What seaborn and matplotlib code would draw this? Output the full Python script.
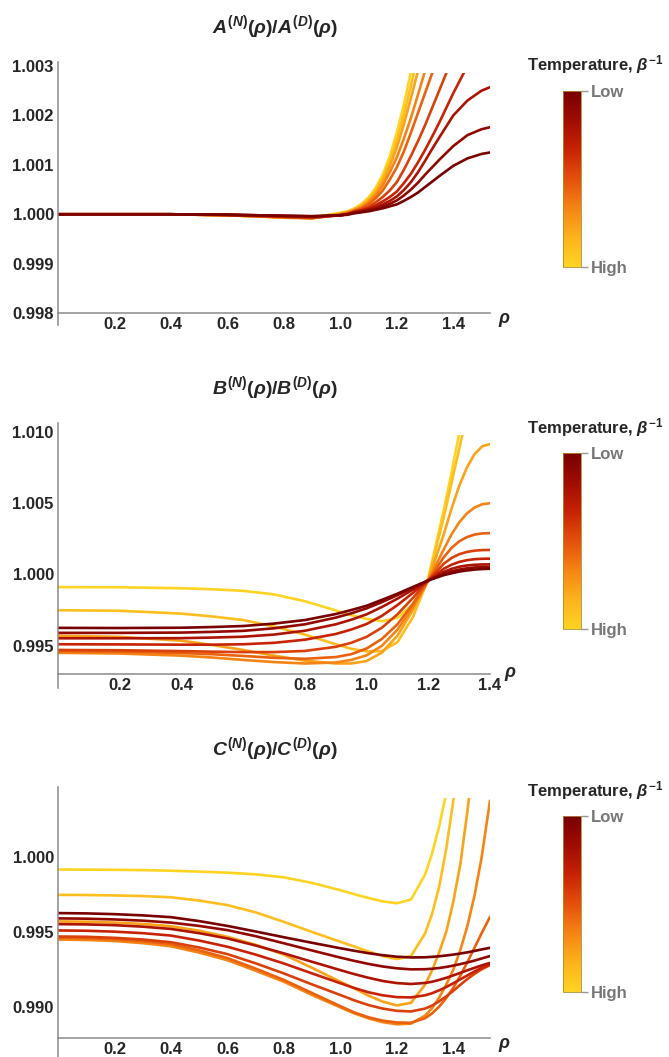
import numpy as np
import pandas as pd
import matplotlib
matplotlib.use('Agg')
import matplotlib.pyplot as plt
import seaborn as sns
from matplotlib.colors import LinearSegmentedColormap, Normalize
from matplotlib.cm import ScalarMappable
from matplotlib.patches import Rectangle
from matplotlib.ticker import FixedLocator, FormatStrFormatter

nan = np.nan

# curve names: T0 = lowest temperature (darkest) ... T9 = highest (yellow)
curve_names = ['T0', 'T1', 'T2', 'T3', 'T4', 'T5', 'T6', 'T7', 'T8', 'T9']

# ---- A^(N)/A^(D) ----
rho_A = [0, 0.2, 0.4, 0.6, 0.7, 0.8, 0.9,
         1.0, 1.025, 1.05, 1.075, 1.1, 1.125, 1.15, 1.175, 1.2, 1.225, 1.25, 1.275, 1.3, 1.325, 1.35,
         1.4, 1.45, 1.5, 1.53]
ratio_A = [
    [1.0, 1.0, 1.0, 0.99999, 0.99998, 0.99997, 0.99996, 0.99998, 0.99999, 1.00002, 1.00004, 1.00006, 1.00009, 1.00012, 1.00016, 1.0002, 1.00027, 1.00035, 1.00044, 1.00055, 1.00066, 1.00077, 1.00098, 1.00113, 1.00122, 1.00125],
    [1.0, 1.0, 1.0, 0.99999, 0.99998, 0.99997, 0.99996, 0.99998, 1.0, 1.00003, 1.00005, 1.00008, 1.00011, 1.00016, 1.00021, 1.00028, 1.00038, 1.0005, 1.00064, 1.0008, 1.00095, 1.0011, 1.00138, 1.0016, 1.00172, 1.00176],
    [1.0, 1.0, 1.0, 0.99999, 0.99998, 0.99996, 0.99995, 0.99998, 1.0, 1.00004, 1.00007, 1.0001, 1.00014, 1.0002, 1.00027, 1.00036, 1.00049, 1.00065, 1.00085, 1.00108, 1.00132, 1.00155, 1.002, 1.0023, 1.0025, 1.00257],
    [1.0, 1.0, 1.0, 0.99999, 0.99997, 0.99995, 0.99994, 0.99998, 1.0, 1.00005, 1.00008, 1.00012, 1.00018, 1.00026, 1.00035, 1.00046, 1.00063, 1.00082, 1.00105, 1.0013, 1.00157, 1.00185, 1.00245, 1.003, 1.00345, nan],
    [1.0, 1.0, 1.0, 0.99998, 0.99997, 0.99995, 0.99993, 0.99998, 1.00001, 1.00006, 1.0001, 1.00015, 1.00024, 1.00035, 1.00048, 1.00065, 1.0009, 1.00118, 1.00148, 1.0018, 1.00215, 1.0025, 1.0032, nan, nan, nan],
    [1.0, 1.0, 1.0, 0.99998, 0.99996, 0.99994, 0.99992, 0.99999, 1.00002, 1.00007, 1.00012, 1.0002, 1.00032, 1.00048, 1.0007, 1.00095, 1.00127, 1.00165, 1.00205, 1.00245, 1.00285, 1.0033, nan, nan, nan, nan],
    [1.0, 1.0, 1.0, 0.99998, 0.99996, 0.99994, 0.99992, 1.0, 1.00003, 1.00008, 1.00014, 1.00024, 1.00038, 1.00058, 1.00085, 1.00115, 1.00153, 1.00195, 1.00242, 1.0029, 1.0034, nan, nan, nan, nan, nan],
    [1.0, 1.0, 1.0, 0.99998, 0.99996, 0.99993, 0.99992, 1.00001, 1.00004, 1.00009, 1.00016, 1.00027, 1.00043, 1.00066, 1.00097, 1.00135, 1.00182, 1.00235, 1.0029, 1.0035, nan, nan, nan, nan, nan, nan],
    [1.0, 1.0, 1.0, 0.99998, 0.99996, 0.99993, 0.99993, 1.00002, 1.00005, 1.0001, 1.00018, 1.0003, 1.00048, 1.00072, 1.00106, 1.0015, 1.00202, 1.0026, 1.00325, nan, nan, nan, nan, nan, nan, nan],
    [1.0, 1.0, 1.0, 0.99998, 0.99996, 0.99994, 0.99993, 1.00003, 1.00006, 1.00012, 1.00021, 1.00034, 1.00053, 1.0008, 1.00117, 1.00165, 1.00222, 1.00288, 1.00365, nan, nan, nan, nan, nan, nan, nan],
]

# ---- B^(N)/B^(D) ----
rho_B = [0, 0.2, 0.4, 0.5, 0.6, 0.7, 0.8, 0.9, 0.95, 1.0, 1.05, 1.1, 1.15, 1.2,
         1.25, 1.275, 1.3, 1.325, 1.35, 1.375, 1.4]
ratio_B = [
    [0.99625, 0.99624, 0.99626, 0.99631, 0.99638, 0.99655, 0.9968, 0.99722, 0.9975, 0.9978, 0.99822, 0.99865, 0.99912, 0.99958, 0.99995, 1.00008, 1.0002, 1.00028, 1.00034, 1.00038, 1.0004],
    [0.9959, 0.9959, 0.99592, 0.99597, 0.99604, 0.99622, 0.9965, 0.99697, 0.99727, 0.99762, 0.99806, 0.99855, 0.99906, 0.99958, 1.00004, 1.00021, 1.00034, 1.00043, 1.00049, 1.00052, 1.00053],
    [0.99552, 0.99552, 0.99553, 0.99557, 0.99563, 0.99578, 0.99605, 0.9965, 0.99682, 0.9972, 0.99772, 0.9983, 0.99893, 0.99958, 1.00018, 1.00039, 1.00054, 1.00063, 1.00068, 1.0007, 1.00071],
    [0.9951, 0.99509, 0.99507, 0.99507, 0.9951, 0.9952, 0.99542, 0.99582, 0.99613, 0.99652, 0.9971, 0.99785, 0.9987, 0.99958, 1.0004, 1.00068, 1.00088, 1.001, 1.00107, 1.0011, 1.00111],
    [0.9947, 0.99468, 0.99462, 0.99458, 0.99455, 0.99455, 0.99463, 0.99492, 0.9952, 0.99562, 0.99627, 0.9972, 0.99835, 0.99958, 1.00075, 1.00115, 1.00142, 1.00158, 1.00167, 1.00171, 1.00172],
    [0.99462, 0.99458, 0.99448, 0.9944, 0.99428, 0.99415, 0.99408, 0.9942, 0.9944, 0.9948, 0.99548, 0.9965, 0.99792, 0.99958, 1.0012, 1.00185, 1.00232, 1.00262, 1.0028, 1.00288, 1.0029],
    [0.9945, 0.99445, 0.9943, 0.99417, 0.994, 0.99385, 0.99375, 0.99382, 0.994, 0.99432, 0.995, 0.99612, 0.9977, 0.99958, 1.00175, 1.0028, 1.00365, 1.00428, 1.0047, 1.00493, 1.005],
    [0.9957, 0.99562, 0.99535, 0.99505, 0.9947, 0.9943, 0.99395, 0.99375, 0.99375, 0.99392, 0.99452, 0.9957, 0.9975, 0.99962, 1.0028, 1.0046, 1.0062, 1.0075, 1.00845, 1.009, 1.00915],
    [0.99749, 0.99745, 0.99725, 0.99705, 0.9968, 0.99635, 0.99578, 0.9951, 0.99478, 0.9946, 0.99462, 0.99525, 0.997, 0.99968, 1.004, 1.0064, 1.0088, 1.0112, nan, nan, nan],
    [0.99911, 0.9991, 0.99903, 0.99896, 0.99885, 0.9986, 0.99812, 0.99748, 0.99714, 0.99688, 0.99672, 0.99695, 0.99792, 0.99975, 1.0045, 1.0071, 1.0099, 1.0127, nan, nan, nan],
]

# ---- C^(N)/C^(D) ----
rho_C = [0, 0.1, 0.2, 0.3, 0.4, 0.5, 0.6, 0.7, 0.8, 0.9, 1.0, 1.05, 1.1, 1.15, 1.2, 1.25,
         1.3, 1.325, 1.35, 1.375, 1.4, 1.425, 1.45, 1.475, 1.5, 1.53]
ratio_C = [
    [0.99625, 0.99623, 0.99618, 0.9961, 0.99598, 0.99572, 0.9954, 0.99503, 0.99465, 0.99428, 0.99392, 0.99375, 0.99359, 0.99346, 0.99336, 0.99331, 0.99332, 0.99335, 0.99339, 0.99344, 0.9935, 0.99357, 0.99365, 0.99374, 0.99384, 0.99395],
    [0.9959, 0.99588, 0.99583, 0.99575, 0.99562, 0.9954, 0.99512, 0.99472, 0.99425, 0.99377, 0.9933, 0.99308, 0.99288, 0.99271, 0.99259, 0.99252, 0.99253, 0.99256, 0.99261, 0.99268, 0.99277, 0.99287, 0.99298, 0.9931, 0.99324, 0.9934],
    [0.99552, 0.9955, 0.99545, 0.99535, 0.9952, 0.99492, 0.99457, 0.9941, 0.99358, 0.99302, 0.99247, 0.9922, 0.99196, 0.99175, 0.99161, 0.99155, 0.99162, 0.9917, 0.99182, 0.99196, 0.99212, 0.99229, 0.99246, 0.99262, 0.99278, 0.99295],
    [0.9951, 0.99508, 0.99502, 0.99492, 0.99476, 0.99443, 0.99402, 0.9935, 0.99291, 0.99225, 0.9916, 0.99128, 0.991, 0.9908, 0.99068, 0.99066, 0.9908, 0.99094, 0.99113, 0.99135, 0.9916, 0.99186, 0.99212, 0.99238, 0.99262, 0.99288],
    [0.9947, 0.99468, 0.99461, 0.9945, 0.99432, 0.99397, 0.99353, 0.99292, 0.99225, 0.99152, 0.99082, 0.99046, 0.99015, 0.98992, 0.98977, 0.98973, 0.98992, 0.99012, 0.9904, 0.99073, 0.9911, 0.9915, 0.99188, 0.99222, 0.99252, 0.9928],
    [0.99462, 0.99459, 0.99452, 0.99439, 0.99419, 0.99378, 0.99327, 0.99257, 0.99182, 0.99095, 0.99008, 0.98966, 0.98934, 0.98912, 0.989, 0.98898, 0.98928, 0.9896, 0.99005, 0.99062, 0.9913, 0.9921, 0.993, 0.99395, 0.9949, 0.996],
    [0.9945, 0.99447, 0.9944, 0.99426, 0.99405, 0.99363, 0.99313, 0.99243, 0.9917, 0.99082, 0.99, 0.9896, 0.98927, 0.98902, 0.98888, 0.98892, 0.98945, 0.98995, 0.99065, 0.9915, 0.9925, 0.9938, 0.9954, 0.9974, 0.9999, 1.0037],
    [0.9957, 0.99568, 0.99562, 0.99553, 0.99538, 0.99508, 0.99468, 0.99415, 0.9935, 0.99262, 0.9917, 0.99125, 0.99078, 0.99038, 0.99013, 0.9903, 0.9915, 0.99245, 0.99365, 0.995, 0.997, 0.9995, 1.003, 1.007, nan, nan],
    [0.99746, 0.99745, 0.99742, 0.99738, 0.9973, 0.99708, 0.99678, 0.9963, 0.99567, 0.995, 0.99435, 0.99403, 0.9937, 0.9934, 0.9932, 0.9934, 0.9949, 0.9962, 0.998, 1.0005, 1.0037, 1.0075, nan, nan, nan, nan],
    [0.99914, 0.99913, 0.99912, 0.9991, 0.99906, 0.999, 0.99893, 0.99882, 0.99862, 0.99825, 0.99777, 0.9975, 0.99725, 0.99703, 0.9969, 0.99715, 0.9988, 1.0002, 1.002, 1.0042, 1.007, nan, nan, nan, nan, nan],
]

W, H = 669, 1057

sns.set_style('white')
plt.rcParams['font.family'] = ['Liberation Sans', 'DejaVu Sans']
plt.rcParams['font.weight'] = 'bold'
plt.rcParams['mathtext.fontset'] = 'custom'
plt.rcParams['mathtext.it'] = 'Liberation Sans:italic:bold'
plt.rcParams['mathtext.rm'] = 'Liberation Sans:bold'
plt.rcParams['mathtext.bf'] = 'Liberation Sans:bold'

# yellow (high T) -> dark red (low T)
solar = LinearSegmentedColormap.from_list(
    'solar', ['#FFD423', '#FDB21B', '#F58414', '#E4500B', '#C82204', '#A00C02', '#780000'])
palette = {name: solar(1 - i / 9) for i, name in enumerate(curve_names)}


def box(l, t, r, b):
    return [l / W, 1 - b / H, (r - l) / W, (b - t) / H]


panels = [
    dict(rho=rho_A, ratio=ratio_A, title=r'$A^{(N)}(\rho)/A^{(D)}(\rho)$', xmax=1.53,
         ylim=(0.99776, 1.00308), base=0.998, clip=1.00286,
         yt=[0.998, 0.999, 1.000, 1.001, 1.002, 1.003], ystep=0.0002,
         ax_box=(58, 62, 490, 325), cb_box=(563, 91, 581, 267), temp_y=65, title_y=27,
         rho_off=(6, -5)),
    dict(rho=rho_B, ratio=ratio_B, title=r'$B^{(N)}(\rho)/B^{(D)}(\rho)$', xmax=1.4,
         ylim=(0.99203, 1.01063), base=0.99299, clip=1.0098,
         yt=[0.995, 1.000, 1.005, 1.010], ystep=0.001,
         ax_box=(58, 423, 490, 688), cb_box=(563, 453, 581, 629), temp_y=428, title_y=388,
         rho_off=(10, 0)),
    dict(rho=rho_C, ratio=ratio_C, title=r'$C^{(N)}(\rho)/C^{(D)}(\rho)$', xmax=1.53,
         ylim=(0.98671, 1.00461), base=0.98799, clip=1.00387,
         yt=[0.990, 0.995, 1.000], ystep=0.001,
         ax_box=(58, 787, 490, 1057), cb_box=(563, 816, 581, 992), temp_y=791, title_y=749,
         rho_off=(6, -5)),
]

fig = plt.figure(figsize=(W / 100, H / 100), dpi=100)

for p in panels:
    ax = fig.add_axes(box(*p['ax_box']))
    n = len(p['rho'])
    df = pd.DataFrame({
        'rho': np.tile(p['rho'], len(curve_names)),
        'ratio': np.concatenate(p['ratio']),
        'curve': np.repeat(curve_names, n),
    })
    sns.lineplot(data=df, x='rho', y='ratio', hue='curve', hue_order=curve_names[::-1],
                 palette=palette, estimator=None, errorbar=None, lw=1.9,
                 legend=False, ax=ax)
    ax.set_xlim(0, p['xmax'])
    ax.set_ylim(*p['ylim'])
    clip = Rectangle((0, p['ylim'][0]), p['xmax'], p['clip'] - p['ylim'][0], transform=ax.transData)
    for line in ax.lines:
        line.set_clip_path(clip)
        line.set_solid_joinstyle('round')

    for s in ['top', 'right']:
        ax.spines[s].set_visible(False)
    ax.spines['bottom'].set_position(('data', p['base']))
    for s in ['left', 'bottom']:
        ax.spines[s].set_color('#8a8a8a')
        ax.spines[s].set_linewidth(1.1)

    ax.xaxis.set_major_locator(FixedLocator([0.2, 0.4, 0.6, 0.8, 1.0, 1.2, 1.4]))
    ax.xaxis.set_minor_locator(FixedLocator(np.arange(0, p['xmax'] + 1e-9, 0.05)))
    ax.xaxis.set_major_formatter(FormatStrFormatter('%.1f'))
    ax.yaxis.set_major_locator(FixedLocator(p['yt']))
    ax.yaxis.set_minor_locator(FixedLocator(np.arange(p['base'], p['ylim'][1], p['ystep'])))
    ax.yaxis.set_major_formatter(FormatStrFormatter('%.3f'))
    ax.tick_params(which='major', direction='in', length=5, width=0.9, color='#333',
                   labelsize=12, pad=3)
    ax.tick_params(which='minor', direction='in', length=3, width=0.7, color='#555')
    ax.set_xlabel('')
    ax.set_ylabel('')
    ax.patch.set_alpha(0)

    ax.annotate(r'$\rho$', xy=(p['xmax'], p['base']), xycoords='data',
                xytext=p['rho_off'], textcoords='offset points', ha='left', va='center',
                fontsize=13, annotation_clip=False)

    fig.text(275 / W, 1 - p['title_y'] / H, p['title'], ha='center', va='center', fontsize=14)
    fig.text(527 / W, 1 - p['temp_y'] / H, r'Temperature, $\beta^{-1}$',
             ha='left', va='center', fontsize=12)

    cax = fig.add_axes(box(*p['cb_box']))
    cb = fig.colorbar(ScalarMappable(Normalize(0, 1), solar), cax=cax, ticks=[0, 1])
    cb.ax.set_yticklabels(['High', 'Low'])
    cb.ax.tick_params(length=5, width=1, color='#999999', labelcolor='#777777',
                      labelsize=12, pad=2)
    cb.outline.set_edgecolor('#b08a30')
    cb.outline.set_linewidth(0.6)

fig.savefig('out.png', dpi=100)
